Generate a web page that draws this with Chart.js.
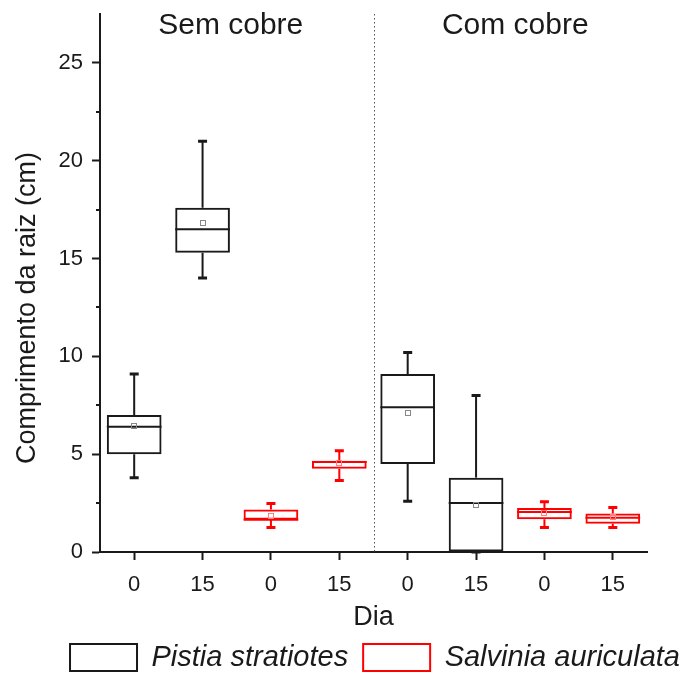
<!DOCTYPE html>
<html>
<head>
<meta charset="utf-8">
<script src="https://cdn.jsdelivr.net/npm/chart.js@4.4.0/dist/chart.umd.min.js"></script>
<style>
  html, body { margin: 0; padding: 0; background: #fff; }
  #wrap { width: 695px; height: 673px; position: relative; }
</style>
</head>
<body>
<div id="wrap"><canvas id="rootChart"></canvas></div>
<script>
// categories
const dayLabels = ['0', '15', '0', '15', '0', '15', '0', '15'];
const groupNames = ['Sem cobre', 'Com cobre'];
const seriesNames = ['Pistia stratiotes', 'Salvinia auriculata'];

// Pistia stratiotes (cm)
const pistiaMin    = [3.8, 14.0, null, null, 2.6, 0.0, null, null];
const pistiaQ1     = [5.0, 15.3, null, null, 4.5, 0.0, null, null];
const pistiaMedian = [6.4, 16.5, null, null, 7.4, 2.5, null, null];
const pistiaQ3     = [7.0, 17.6, null, null, 9.1, 3.8, null, null];
const pistiaMax    = [9.1, 21.0, null, null, 10.2, 8.0, null, null];
const pistiaMean   = [6.45, 16.8, null, null, 7.1, 2.4, null, null];

// Salvinia auriculata (cm)
const salviniaMin    = [null, null, 1.25, 3.65, null, null, 1.25, 1.25];
const salviniaQ1     = [null, null, 1.65, 4.25, null, null, 1.67, 1.45];
const salviniaMedian = [null, null, 1.65, 4.6, null, null, 2.05, 1.75];
const salviniaQ3     = [null, null, 2.17, 4.67, null, null, 2.25, 1.97];
const salviniaMax    = [null, null, 2.48, 5.17, null, null, 2.57, 2.28];
const salviniaMean   = [null, null, 1.86, 4.55, null, null, 2.0, 1.77];

const stats = [
    { min: pistiaMin, median: pistiaMedian, max: pistiaMax, mean: pistiaMean, q1: pistiaQ1, q3: pistiaQ3 },
    { min: salviniaMin, median: salviniaMedian, max: salviniaMax, mean: salviniaMean, q1: salviniaQ1, q3: salviniaQ3 }
];

const FONT = "'Liberation Sans', Arial, sans-serif";
const INK = '#1a1a1a';
const RED = '#ff0000';

function boxes(q1, q3) {
    return q1.map((v, i) => (v == null ? null : [v, q3[i]]));
}

// whiskers, medians, means, divider, group titles, y title
const boxExtras = {
    id: 'boxExtras',
    afterDatasetsDraw(chart) {
        const { ctx, scales: { y } } = chart;
        ctx.save();
        chart.data.datasets.forEach((ds, di) => {
            const st = stats[di];
            const meta = chart.getDatasetMeta(di);
            meta.data.forEach((bar, i) => {
                if (st.median[i] == null) return;
                const cx = bar.x;
                const half = bar.width / 2;
                ctx.strokeStyle = ds.borderColor;
                ctx.lineCap = 'butt';
                // whiskers
                ctx.lineWidth = 2;
                ctx.beginPath();
                ctx.moveTo(cx, y.getPixelForValue(st.q3[i]));
                ctx.lineTo(cx, y.getPixelForValue(st.max[i]));
                ctx.moveTo(cx, y.getPixelForValue(st.q1[i]));
                ctx.lineTo(cx, y.getPixelForValue(st.min[i]));
                ctx.stroke();
                // caps
                ctx.lineWidth = 3;
                ctx.beginPath();
                ctx.moveTo(cx - 4.5, y.getPixelForValue(st.max[i]));
                ctx.lineTo(cx + 4.5, y.getPixelForValue(st.max[i]));
                ctx.moveTo(cx - 4.5, y.getPixelForValue(st.min[i]));
                ctx.lineTo(cx + 4.5, y.getPixelForValue(st.min[i]));
                ctx.stroke();
                // median
                ctx.lineWidth = 2;
                ctx.beginPath();
                ctx.moveTo(cx - half, y.getPixelForValue(st.median[i]));
                ctx.lineTo(cx + half, y.getPixelForValue(st.median[i]));
                ctx.stroke();
                // mean
                const my = y.getPixelForValue(st.mean[i]);
                ctx.lineWidth = 1;
                ctx.strokeStyle = di === 0 ? '#888' : '#ff8080';
                ctx.strokeRect(Math.round(cx) - 2.5, Math.round(my) - 2.5, 5, 5);
            });
        });
        ctx.restore();
    },
    afterDraw(chart) {
        const { ctx, chartArea, scales: { x, y } } = chart;
        ctx.save();
        // minor ticks on y
        ctx.strokeStyle = INK;
        ctx.lineWidth = 2;
        ctx.beginPath();
        for (let v = 2.5; v < 27.5; v += 5) {
            const py = Math.round(y.getPixelForValue(v));
            ctx.moveTo(chartArea.left - 4, py);
            ctx.lineTo(chartArea.left, py);
        }
        ctx.stroke();
        // dotted divider between groups
        const dx = Math.round((x.getPixelForValue(3) + x.getPixelForValue(4)) / 2) + 0.5;
        ctx.strokeStyle = '#555';
        ctx.lineWidth = 1;
        ctx.setLineDash([1.5, 2.5]);
        ctx.beginPath();
        ctx.moveTo(dx, chartArea.top);
        ctx.lineTo(dx, chartArea.bottom);
        ctx.stroke();
        ctx.setLineDash([]);
        // group titles
        ctx.fillStyle = INK;
        ctx.font = '30px ' + FONT;
        ctx.textAlign = 'center';
        ctx.textBaseline = 'middle';
        ctx.fillText(groupNames[0], (x.getPixelForValue(0) + x.getPixelForValue(3)) / 2 - 6, 26);
        ctx.fillText(groupNames[1], (x.getPixelForValue(4) + x.getPixelForValue(7)) / 2 + 5, 26);
        // y axis title
        ctx.font = '27px ' + FONT;
        ctx.translate(28, 308);
        ctx.rotate(-Math.PI / 2);
        ctx.fillText('Comprimento da raiz (cm)', 0, 0);
        ctx.restore();
    }
};

const ctx = document.getElementById('rootChart').getContext('2d');
new Chart(ctx, {
    type: 'bar',
    data: {
        labels: dayLabels,
        datasets: [
            {
                label: seriesNames[0],
                data: boxes(pistiaQ1, pistiaQ3),
                borderColor: INK,
                backgroundColor: 'rgba(255,255,255,0)',
                borderWidth: 2,
                borderSkipped: false
            },
            {
                label: seriesNames[1],
                data: boxes(salviniaQ1, salviniaQ3),
                borderColor: RED,
                backgroundColor: 'rgba(255,255,255,0)',
                borderWidth: 2,
                borderSkipped: false
            }
        ]
    },
    options: {
        responsive: true,
        maintainAspectRatio: false,
        animation: false,
        layout: { padding: { top: 14, right: 0, bottom: -9, left: 0 } },
        datasets: {
            bar: { categoryPercentage: 0.8, barPercentage: 1, skipNull: true, grouped: true }
        },
        scales: {
            x: {
                grid: { offset: false, drawOnChartArea: false, drawTicks: true, tickLength: 8, tickColor: INK, tickWidth: 2 },
                border: { display: true, color: INK, width: 2 },
                ticks: { color: INK, font: { family: FONT, size: 22 }, padding: 12, maxRotation: 0 },
                title: { display: true, text: 'Dia', color: INK, font: { family: FONT, size: 27 }, padding: { top: 0, bottom: -6 } },
                afterFit(scale) { scale.height = 76; }
            },
            y: {
                min: 0,
                max: 27.5,
                grid: {
                    drawOnChartArea: false, drawTicks: true, tickLength: 8, tickWidth: 2,
                    tickColor: (c) => (c.tick && c.tick.value % 5 === 0 ? INK : 'rgba(0,0,0,0)')
                },
                border: { display: true, color: INK, width: 2 },
                ticks: {
                    stepSize: 2.5,
                    color: INK,
                    padding: 9,
                    font: { family: FONT, size: 22 },
                    callback: (v) => (v % 5 === 0 ? v : '')
                },
                afterFit(scale) {
                    scale.width = 100;
                    scale.paddingTop = 0;
                }
            },
            // empty spacer on the right so the legend can span the full width
            spacer: {
                type: 'linear',
                position: 'right',
                display: true,
                grid: { display: false, drawTicks: false },
                border: { display: false },
                ticks: { display: false },
                afterFit(scale) {
                    scale.width = 48;
                    scale.paddingTop = 0;
                }
            }
        },
        plugins: {
            legend: {
                position: 'bottom',
                align: 'end',
                labels: {
                    boxWidth: 67,
                    boxHeight: 27,
                    padding: 15,
                    color: INK,
                    font: { family: FONT, size: 29, style: 'italic' }
                }
            },
            tooltip: { enabled: false }
        }
    },
    plugins: [boxExtras]
});
</script>
</body>
</html>
